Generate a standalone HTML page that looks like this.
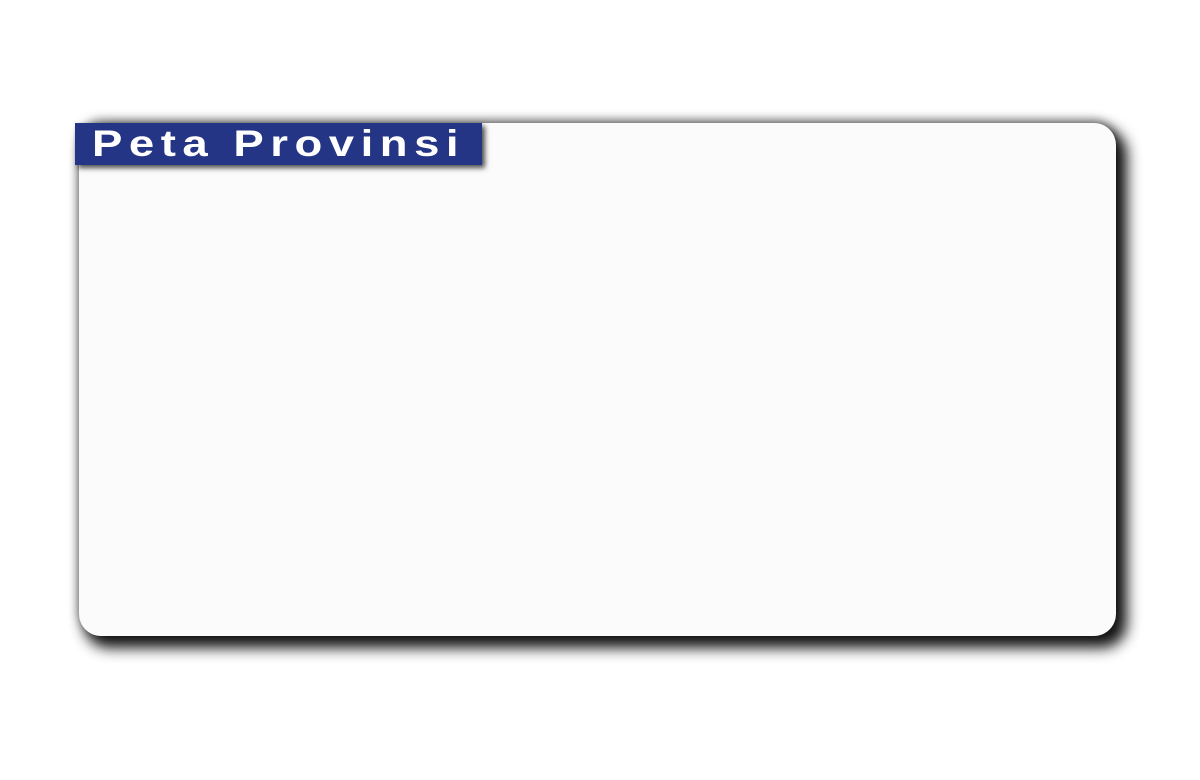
<!DOCTYPE html>
<html><head><meta charset="utf-8"><style>
html,body{margin:0;padding:0;background:#fff;width:1200px;height:780px;overflow:hidden}
.panel{position:absolute;left:79px;top:123px;width:1037px;height:513px;background:#fbfbfb;border-radius:22px;box-shadow:8px 9px 14px 3px rgba(0,0,0,0.92),0 -3px 10px rgba(0,0,0,0.5)}
.banner{position:absolute;left:75px;top:123px;width:407px;height:42px;background:#233584;box-shadow:3px 3px 5px rgba(0,0,0,0.7)}
.banner span{position:absolute;left:17px;top:0;line-height:42px;color:#fff;font:bold 37px "Liberation Sans",sans-serif;letter-spacing:5.3px;white-space:nowrap;transform:scaleX(1.23);transform-origin:0 50%}
</style></head><body>
<div class="panel"></div>
<div class="banner"><span>Peta Provinsi</span></div>
</body></html>
